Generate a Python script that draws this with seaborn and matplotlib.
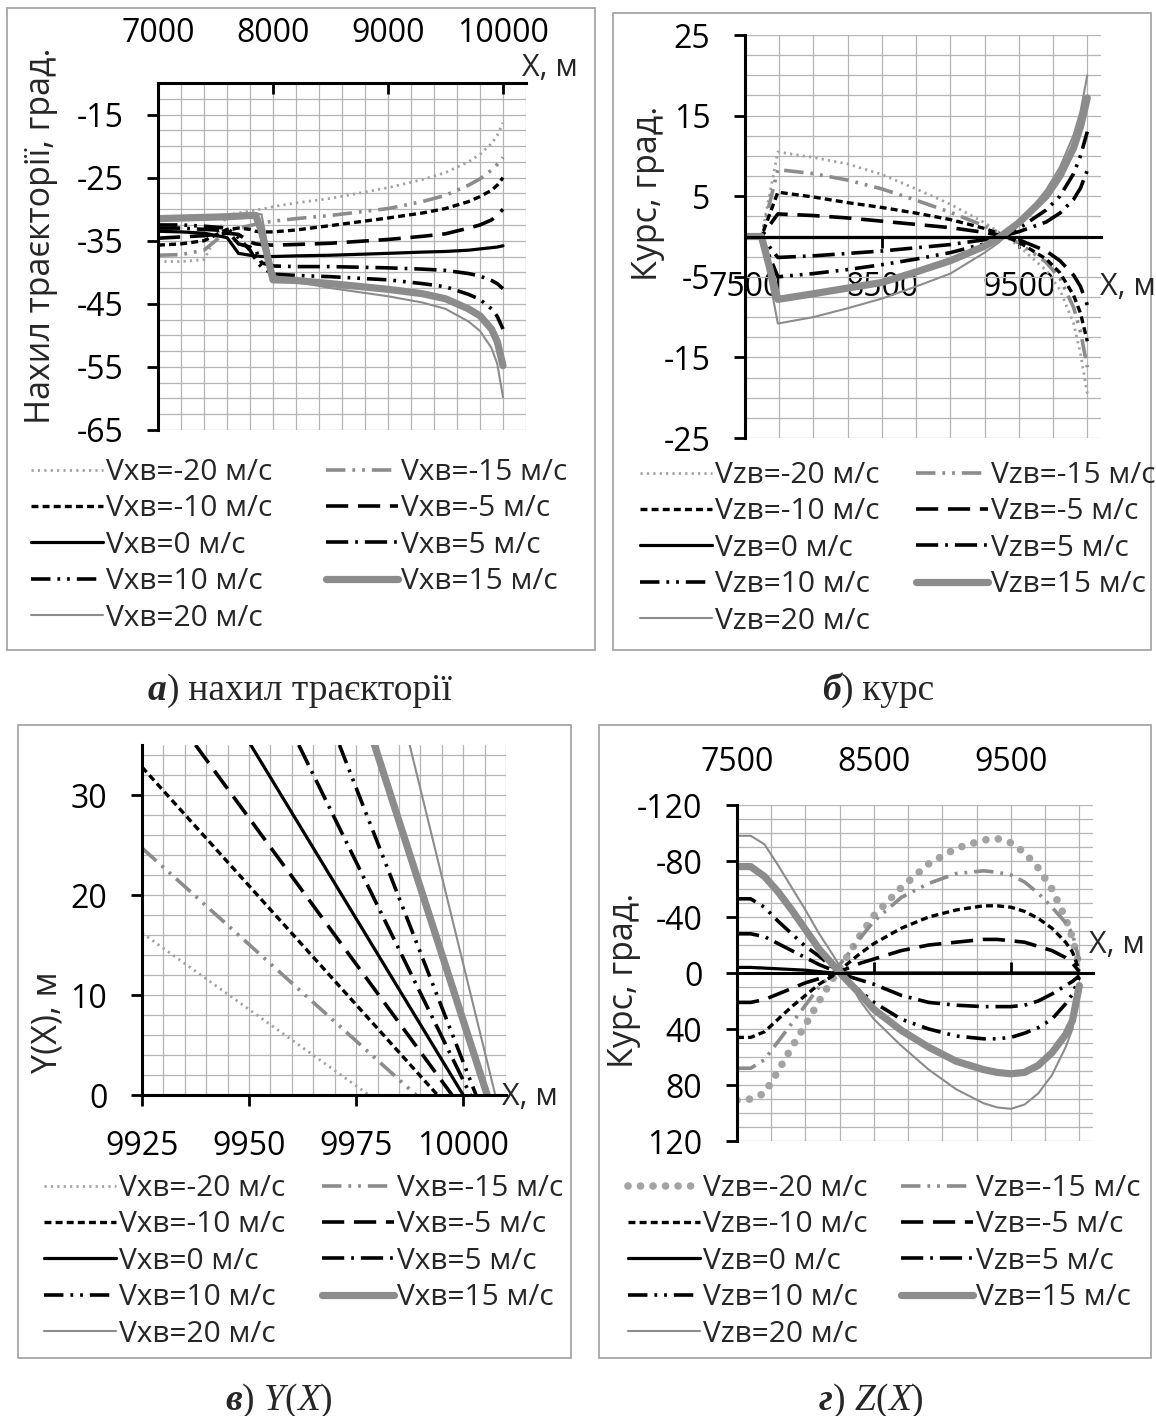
import pandas as pd
import matplotlib
matplotlib.use("Agg")
import matplotlib.pyplot as plt
import seaborn as sns
from matplotlib.ticker import MultipleLocator
from matplotlib.patches import Rectangle
from matplotlib.text import Annotation

# DATA
SPEEDS = [-20, -15, -10, -5, 0, 5, 10, 15, 20]

# a) trajectory inclination vs X
A_X = [7000, 7200, 7400, 7600, 7700, 7800, 7850, 7900, 8000, 8200, 8500,
       9000, 9300, 9500, 9700, 9800, 9900, 9950, 10000]
A_Y = [
    [-38.3, -38.3, -38.0, -31.0, -30.6, -30.3, -30.1, -30.0, -29.6, -29.0, -28.3, -26.6, -25.3, -24.2, -22.5, -21.3, -19.6, -18.3, -16.3],
    [-37.3, -37.2, -36.5, -33.5, -33.0, -32.6, -32.4, -32.2, -31.9, -31.5, -31.0, -29.9, -28.8, -27.8, -26.2, -25.2, -23.8, -22.9, -21.8],
    [-35.7, -35.5, -35.0, -33.2, -33.0, -33.2, -33.5, -33.6, -33.6, -33.3, -32.6, -31.4, -30.6, -29.9, -28.8, -28.0, -27.0, -26.2, -25.0],
    [-34.6, -34.4, -34.2, -33.8, -34.0, -35.2, -35.5, -35.6, -35.7, -35.6, -35.4, -34.8, -34.3, -33.9, -33.0, -32.5, -31.7, -31.0, -30.0],
    [-33.5, -33.6, -33.8, -34.5, -37.0, -37.3, -37.4, -37.5, -37.5, -37.4, -37.3, -37.0, -36.8, -36.7, -36.5, -36.3, -36.1, -36.0, -35.8],
    [-33.0, -33.0, -33.2, -33.4, -35.5, -36.0, -36.5, -38.5, -39.0, -39.1, -39.1, -39.3, -39.5, -39.7, -40.2, -40.6, -41.3, -41.8, -42.6],
    [-32.5, -32.5, -32.7, -33.0, -34.5, -36.5, -38.0, -39.2, -40.3, -40.5, -40.7, -41.2, -41.8, -42.3, -43.5, -44.3, -45.8, -47.0, -49.0],
    [-31.5, -31.4, -31.3, -31.2, -31.1, -31.0, -31.0, -33.5, -41.2, -41.3, -41.8, -42.7, -43.4, -44.2, -45.8, -46.9, -49.0, -51.0, -54.8],
    [-31.2, -31.1, -31.0, -30.9, -30.8, -30.7, -30.7, -30.8, -40.5, -41.5, -42.5, -43.8, -44.8, -45.8, -47.8, -49.3, -52.0, -54.5, -59.8],
]

# b) heading vs X
B_X = [7500, 7620, 7740, 8000, 8250, 8500, 8750, 9000, 9250, 9350, 9500,
       9700, 9800, 9900, 9950, 10000]
B_Y = [
    [0, 0, 10.5, 9.8, 9.0, 7.7, 5.9, 4.0, 1.7, 0.6, -1.2, -4.2, -6.6, -10.8, -14.5, -19.5],
    [0, 0, 8.3, 7.8, 7.0, 5.9, 4.5, 3.0, 1.3, 0.5, -0.8, -3.2, -5.2, -8.8, -11.8, -16.2],
    [0, 0, 5.5, 4.9, 4.2, 3.6, 2.9, 2.1, 1.0, 0.4, -0.7, -2.8, -4.5, -7.3, -9.5, -13.0],
    [0, 0, 2.8, 2.6, 2.3, 1.9, 1.5, 1.1, 0.5, 0.2, -0.4, -1.8, -3.0, -4.8, -6.2, -8.5],
    [0, 0, 0, 0, 0, 0, 0, 0, 0, 0, 0, 0, 0, 0, 0, 0],
    [0, 0, -2.6, -2.4, -2.1, -1.8, -1.4, -1.0, -0.4, -0.1, 0.6, 1.8, 2.9, 4.6, 6.0, 8.2],
    [0, 0, -5.0, -4.6, -4.1, -3.5, -2.8, -2.0, -0.9, -0.3, 1.0, 3.3, 5.0, 7.8, 10.0, 13.0],
    [0, 0, -7.8, -7.1, -6.4, -5.7, -4.4, -3.0, -1.2, -0.2, 1.7, 5.0, 7.5, 11.0, 13.6, 17.2],
    [0, 0, -10.8, -10.0, -8.9, -7.7, -6.2, -4.6, -2.0, -0.8, 1.5, 5.8, 8.6, 12.6, 15.5, 20.0],
]

# c) Y(X): straight segments, start point and ground point (Y = 0)
C_X0 = [9925, 9925, 9925, 9937.5, 9950.4, 9961.6, 9971.1, 9979.3, 9987.5]
C_Y0 = [16.2, 24.7, 32.8, 35, 35, 35, 35, 35, 35]
C_X1 = [9978, 9989, 9994, 9997.4, 10000, 10001.7, 10003, 10005.6, 10007.5]

# d) Z(X)
D_X = [7500, 7600, 7700, 7800, 7900, 8000, 8100, 8200, 8300, 8400, 8500,
       8700, 8900, 9100, 9300, 9400, 9500, 9600, 9700, 9800, 9900, 9950, 10000]
D_Y = [
    [91, 90, 86, 70, 53, 37, 20, 4, -11, -27, -41, -61, -78, -89, -95, -96, -93, -86, -75, -60, -39, -25, -5],
    [68, 68, 62, 49, 36, 23, 10, 0, -12, -25, -37, -54, -64, -71, -73, -72, -70, -65, -57, -47, -36, -28, -9],
    [46, 46, 42, 33, 24, 16, 8, 2, -6, -14, -21, -32, -40, -45, -48, -48, -47, -44, -39, -32, -22, -15, -2],
    [21, 21, 19, 15, 11, 7, 4, 1, -3, -7, -10, -16, -20, -22, -24, -24, -23, -22, -19, -16, -11, -7, -1],
    [-4, -4, -3.5, -3, -2.5, -2, -1, 0, 0, 0, 0, 0, 0, 0, 0, 0, 0, 0, 0, 0, 0, 0, 0],
    [-28, -28, -26, -21, -16, -11, -6, -2, 2, 5, 8, 16, 21, 23, 24, 24, 24, 23, 20, 15, 9, 6, 2],
    [-53, -53, -47, -37, -28, -19, -12, -4, 5, 13, 21, 33, 40, 45, 47, 47, 46, 43, 39, 33, 22, 15, 3],
    [-76, -76, -69, -58, -45, -31, -17, -6, 5, 15, 26, 41, 53, 63, 69, 71, 72, 71, 66, 57, 44, 34, 9],
    [-98, -98, -92, -77, -61, -45, -28, -13, 3, 20, 33, 52, 69, 83, 93, 96, 97, 94, 86, 73, 53, 40, 9],
]

# STYLE
W, H = 1156, 1416
GRAY = "#8c8c8c"
LIGHT = "#a3a3a3"
STYLES = {
    -20: dict(color=LIGHT, lw=2.0, ls=(0, (1.6, 3.0))),
    -15: dict(color=GRAY, lw=2.6, ls=(0, (14, 5, 2, 5, 2, 5))),
    -10: dict(color="black", lw=2.4, ls=(0, (5, 3))),
    -5: dict(color="black", lw=2.6, ls=(0, (16, 7))),
    0: dict(color="black", lw=2.3, ls="-"),
    5: dict(color="black", lw=2.6, ls=(0, (16, 5, 2, 5))),
    10: dict(color="black", lw=2.6, ls=(0, (14, 5, 2, 5, 2, 5))),
    15: dict(color=GRAY, lw=5.2, ls="-"),
    20: dict(color=GRAY, lw=1.5, ls="-"),
}
FS_TICK, FS_LAB, FS_YLAB, FS_LEG, FS_CAP = 23, 22, 24.5, 21.5, 27
SERIF = "Liberation Serif"

sns.set_theme(style="white")
plt.rcParams["font.family"] = ["Open Sans", "DejaVu Sans"]
plt.rcParams["lines.scale_dashes"] = False
plt.rcParams["axes.unicode_minus"] = False

fig = plt.figure(figsize=(W / 100, H / 100), dpi=100)


def fx(px):
    return px / W


def fy(py):
    return 1 - py / H


def make_axes(l, t, r, b):
    ax = fig.add_axes([fx(l), fy(b), (r - l) / W, (b - t) / H])
    ax.set_axisbelow(True)
    for s in ax.spines.values():
        s.set_visible(False)
    ax.spines["left"].set_visible(True)
    ax.spines["left"].set_color("black")
    ax.spines["left"].set_linewidth(2.2)
    ax.grid(which="both", color="#b4b4b4", lw=0.9)
    ax.tick_params(which="minor", length=0)
    ax.tick_params(axis="y", which="major", direction="out", length=8, width=2,
                   labelsize=FS_TICK, pad=17, left=True, colors="black")
    ax.tick_params(axis="x", which="major", length=8, width=2,
                   labelsize=FS_TICK, colors="black")
    return ax


def axis_line(ax, side, pos=None):
    sp = ax.spines[side]
    sp.set_visible(True)
    sp.set_color("black")
    sp.set_linewidth(2.2)
    if pos is not None:
        sp.set_position(("data", pos))


def draw(ax, xs, ys, v, **over):
    st = dict(STYLES[v])
    st.update(over)
    df = pd.DataFrame({"x": xs, "y": ys})
    sns.lineplot(data=df, x="x", y="y", ax=ax, estimator=None, sort=False,
                 color=st["color"], linewidth=st["lw"], linestyle=st["ls"],
                 dash_capstyle=st.get("cap", "butt"))
    ax.set_xlabel("")
    ax.set_ylabel("")
    return ax.lines[-1]


def legend(handles, prefix, x1, x2, ytop):
    labels = [f"{prefix}={v} м/с" for v in SPEEDS]
    for xl, idx in ((x1, [0, 2, 4, 6, 8]), (x2, [1, 3, 5, 7])):
        fig.legend([handles[i] for i in idx], [labels[i] for i in idx],
                   loc="upper left", bbox_to_anchor=(fx(xl), fy(ytop)),
                   frameon=False, fontsize=FS_LEG, handlelength=2.4,
                   handletextpad=0.12, labelspacing=0.25, borderpad=0,
                   borderaxespad=0)


def frame(l, t, r, b):
    fig.patches.append(Rectangle((fx(l), fy(b)), (r - l) / W, (b - t) / H,
                                 transform=fig.transFigure, fill=False,
                                 edgecolor="#a6a6a6", lw=1.3))


def caption(x, y, parts):
    prev = fig.text(fx(x), fy(y), parts[0][0], fontfamily=SERIF,
                    fontsize=FS_CAP, va="baseline", ha="left", **parts[0][1])
    for s, kw in parts[1:]:
        prev = fig.add_artist(Annotation(s, xy=(1, 0), xycoords=prev,
                                         xytext=(0, 0), textcoords="offset points",
                                         va="bottom", ha="left", fontfamily=SERIF,
                                         fontsize=FS_CAP, **kw))


BI = dict(fontweight="bold", fontstyle="italic")
IT = dict(fontstyle="italic")
NO = dict()

frame(7, 8, 595, 650)
frame(613, 13, 1151, 650)
frame(18, 725, 571, 1358)
frame(599, 725, 1151, 1358)

# ---- a) ----
ax = make_axes(158, 83, 526, 430)
h = [draw(ax, A_X, A_Y[i], v) for i, v in enumerate(SPEEDS)]
ax.set_xlim(7000, 10200)
ax.set_ylim(-65, -10)
axis_line(ax, "top")
ax.xaxis.tick_top()
ax.set_xticks([7000, 8000, 9000, 10000])
ax.set_yticks([-65, -55, -45, -35, -25, -15])
ax.xaxis.set_minor_locator(MultipleLocator(200))
ax.yaxis.set_minor_locator(MultipleLocator(2.5))
ax.tick_params(axis="x", which="major", direction="in", pad=24)
fig.text(fx(550), fy(68), "X, м", ha="center", va="center", fontsize=FS_LAB)
fig.text(fx(41), fy(236), "Нахил траєкторії, град.", rotation=90,
         ha="center", va="center", fontsize=FS_YLAB)
legend(h, "Vxв", 31, 326, 458)
caption(148, 700, [("а", BI), (")", NO), (" нахил траєкторії", NO)])

# ---- b) ----
ax = make_axes(745, 35, 1101, 438)
h = [draw(ax, B_X, B_Y[i], v) for i, v in enumerate(SPEEDS)]
ax.set_xlim(7500, 10100)
ax.set_ylim(-25, 25)
axis_line(ax, "bottom", 0)
ax.set_xticks([7500, 8500, 9500])
ax.set_yticks([-25, -15, -5, 5, 15, 25])
ax.xaxis.set_minor_locator(MultipleLocator(250))
ax.yaxis.set_minor_locator(MultipleLocator(2.5))
ax.tick_params(axis="x", which="major", direction="out", bottom=True, pad=17)
fig.text(fx(1128), fy(287), "X, м", ha="center", va="center", fontsize=FS_LAB)
fig.text(fx(648), fy(193), "Курс, град.", rotation=90,
         ha="center", va="center", fontsize=FS_YLAB)
legend(h, "Vzв", 640, 916, 461)
caption(822, 700, [("б", BI), (")", NO), (" курс", NO)])

# ---- c) ----
ax = make_axes(142, 745, 506, 1095)
h = []
for i, v in enumerate(SPEEDS):
    h.append(draw(ax, [C_X0[i], C_X1[i]], [C_Y0[i], 0], v))
ax.set_xlim(9925, 10010)
ax.set_ylim(0, 35)
axis_line(ax, "bottom")
ax.set_xticks([9925, 9950, 9975, 10000])
ax.set_yticks([0, 10, 20, 30])
ax.xaxis.set_minor_locator(MultipleLocator(5))
ax.yaxis.set_minor_locator(MultipleLocator(2))
ax.tick_params(axis="x", which="major", direction="out", bottom=True, pad=17)
fig.text(fx(530), fy(1097), "X, м", ha="center", va="center", fontsize=FS_LAB)
fig.text(fx(48), fy(1022), "Y(X), м", rotation=90,
         ha="center", va="center", fontsize=FS_YLAB)
legend(h, "Vxв", 44, 322, 1174)
caption(225, 1410, [("в", BI), (")", NO), (" ", NO), ("Y", IT), ("(", NO),
                    ("X", IT), (")", NO)])

# ---- d) ----
ax = make_axes(737, 805, 1093, 1141)
h = []
for i, v in enumerate(SPEEDS):
    if v == -20:
        h.append(draw(ax, D_X, D_Y[i], v, lw=5.5, ls=(0, (0.01, 9)), cap="round"))
    else:
        h.append(draw(ax, D_X, D_Y[i], v))
ax.set_xlim(7500, 10100)
ax.set_ylim(120, -120)
axis_line(ax, "bottom", 0)
ax.set_xticks([7500, 8500, 9500])
ax.set_yticks([-120, -80, -40, 0, 40, 80, 120])
ax.xaxis.set_minor_locator(MultipleLocator(250))
ax.yaxis.set_minor_locator(MultipleLocator(10))
ax.tick_params(axis="x", which="major", direction="in", bottom=True, top=False,
               labelbottom=False, labeltop=True, pad=19)
fig.text(fx(1117), fy(945), "X, м", ha="center", va="center", fontsize=FS_LAB)
fig.text(fx(624), fy(980), "Курс, град.", rotation=90,
         ha="center", va="center", fontsize=FS_YLAB)
legend(h, "Vzв", 628, 901, 1174)
caption(819, 1410, [("г", BI), (")", NO), (" ", NO), ("Z", IT), ("(", NO),
                    ("X", IT), (")", NO)])

fig.savefig("out.png", dpi=100)
